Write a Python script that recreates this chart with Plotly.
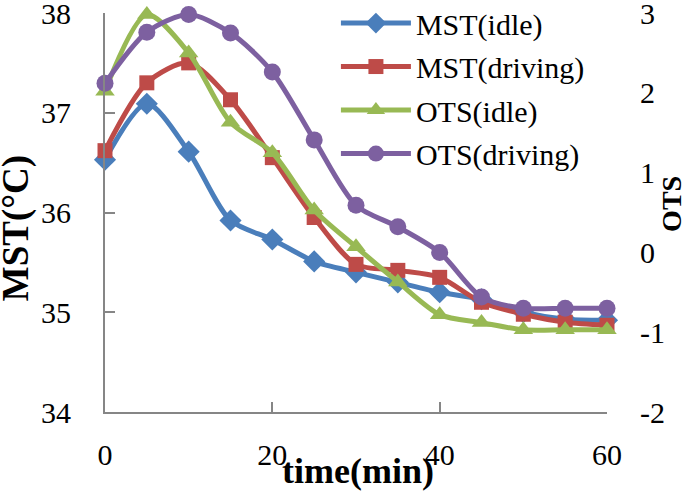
import plotly.graph_objects as go

time_min = [0, 5, 10, 15, 20, 25, 30, 35, 40, 45, 50, 55, 60]
mst_idle = [36.53, 37.09, 36.61, 35.92, 35.73, 35.51, 35.40, 35.30, 35.20, 35.13, 35.00, 34.93, 34.92]
mst_driving = [36.62, 37.30, 37.50, 37.13, 36.55, 35.95, 35.48, 35.42, 35.35, 35.10, 34.98, 34.90, 34.87]
ots_idle = [2.02, 2.98, 2.50, 1.63, 1.25, 0.53, 0.07, -0.37, -0.78, -0.88, -0.97, -0.97, -0.97]
ots_driving = [2.12, 2.76, 2.98, 2.75, 2.26, 1.41, 0.59, 0.32, 0.00, -0.56, -0.70, -0.70, -0.70]

x_ticks = [0, 20, 40, 60]
mst_ticks = [34, 35, 36, 37, 38]
ots_ticks = [-2, -1, 0, 1, 2, 3]
ots_ticklabels = ["-2", "-1", "0", "1", "2", "3"]

FONT = "Liberation Serif"
AX = "#868686"

fig = go.Figure()

def add(y, name, color, symbol, size, axis):
    fig.add_trace(go.Scatter(
        x=time_min, y=y, name=name, mode="lines+markers", yaxis=axis,
        legendgroup=name,
        line=dict(color=color, width=5, shape="spline", smoothing=0.8),
        marker=dict(symbol=symbol, size=size, color=color),
        cliponaxis=False,
    ))

add(mst_idle, "MST(idle)", "#4A7EBB", "diamond", 17, "y")
add(mst_driving, "MST(driving)", "#BE4B48", "square", 15, "y")
add(ots_idle, "OTS(idle)", "#98B954", "triangle-up", 17, "y2")
add(ots_driving, "OTS(driving)", "#7D60A0", "circle", 17, "y2")

axis_common = dict(
    showline=True, linecolor=AX, linewidth=2, showgrid=False, zeroline=False,
    ticks="inside", ticklen=10, tickwidth=2, tickcolor=AX, automargin=False,
    ticklabeloverflow="allow",
    tickfont=dict(family=FONT, size=30, color="black"),
)

fig.update_layout(
    width=685, height=497,
    margin=dict(l=105, r=78, t=13, b=85, autoexpand=False),
    plot_bgcolor="white", paper_bgcolor="white",
    font=dict(family=FONT, size=30, color="black"),
    showlegend=True,
    xaxis=dict(range=[0, 60], tickvals=x_ticks, ticklabelstandoff=15, **axis_common),
    yaxis=dict(range=[34, 38], tickvals=mst_ticks, ticklabelstandoff=26, **axis_common),
    # right axis: labels (pushed outwards by transparent outside ticks)
    yaxis2=dict(range=[-2, 3], tickvals=ots_ticks, ticktext=ots_ticklabels, overlaying="y",
                side="right", anchor="x", showline=False, showgrid=False, zeroline=False,
                ticks="outside", ticklen=26, tickcolor="rgba(0,0,0,0)", automargin=False,
                ticklabeloverflow="allow",
                tickfont=dict(family=FONT, size=30, color="black")),
    # right axis: line and inside ticks
    yaxis3=dict(range=[-2, 3], tickvals=ots_ticks, overlaying="y", side="right", anchor="x",
                showticklabels=False, showline=True, linecolor=AX, linewidth=2,
                showgrid=False, zeroline=False, ticks="inside", ticklen=10, tickwidth=2,
                tickcolor=AX, automargin=False),
    legend=dict(x=0.46, y=1.04, xanchor="left", yanchor="top", bgcolor="rgba(0,0,0,0)",
                itemwidth=70, font=dict(family=FONT, size=30, color="black"), tracegroupgap=1.5),
    annotations=[
        dict(text="<b>time(min)</b>", xref="paper", yref="paper", x=0.503, y=-0.148,
             xanchor="center", yanchor="middle", showarrow=False,
             font=dict(family=FONT, size=36, color="black")),
        dict(text="<b>MST(°C)</b>", xref="paper", yref="paper", x=-0.177, y=0.461,
             xanchor="center", yanchor="middle", showarrow=False, textangle=-90,
             font=dict(family=FONT, size=37, color="black")),
        dict(text="<b>OTS</b>", xref="paper", yref="paper", x=1.127, y=0.521,
             xanchor="center", yanchor="middle", showarrow=False, textangle=-90,
             font=dict(family=FONT, size=28, color="black")),
    ],
)

fig.write_html("out.html", config={"displayModeBar": False},
               post_script="document.body.style.margin='0';document.body.style.padding='0';")
